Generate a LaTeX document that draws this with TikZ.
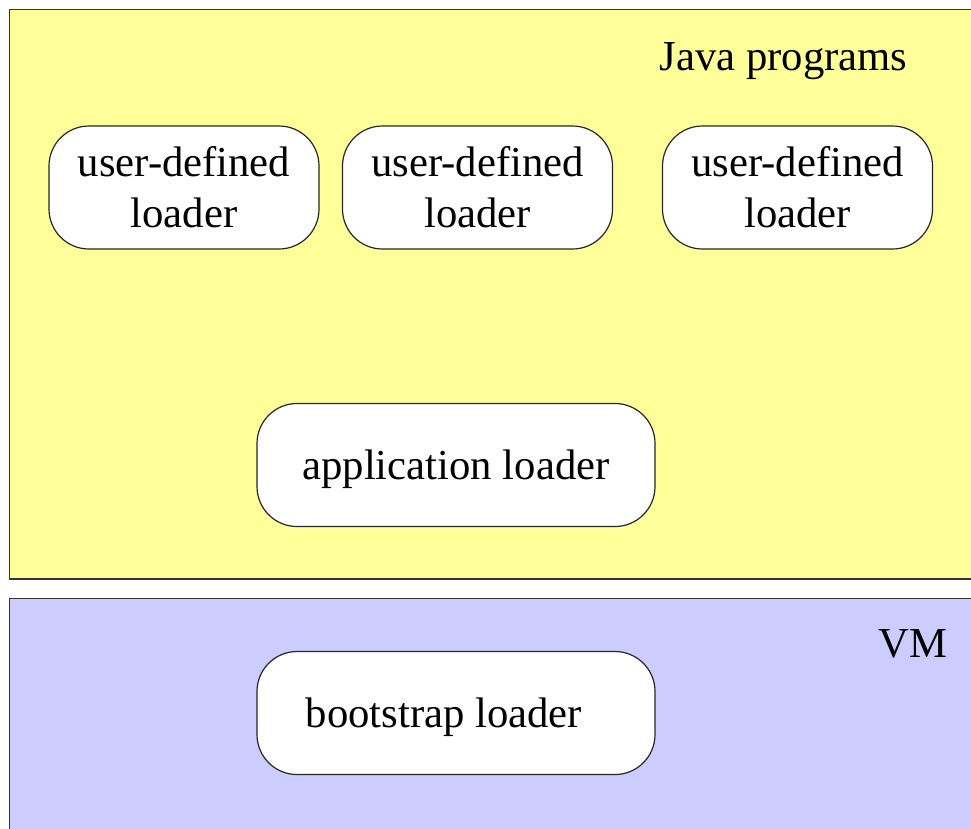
\documentclass[tikz,border=0pt]{standalone}
\usepackage{fontspec}
\setmainfont{Liberation Serif}
\definecolor{javabg}{HTML}{FFFF99}
\definecolor{vmbg}{HTML}{CCCCFF}
\begin{document}
\begin{tikzpicture}[x=1pt,y=-1pt,line join=round,font=\fontsize{42.7}{51}\selectfont,
	layer/.style={draw=black!80,line width=1.2pt},
	loader/.style={draw=black!85,line width=1.2pt,fill=white,rounded corners=40pt,minimum width=270pt,minimum height=123pt,align=center,inner sep=0pt},
	wide/.style={loader,minimum width=398pt,text depth=0pt}]
	\useasboundingbox (0,0) rectangle (971,828);
	\clip (0,0) rectangle (971,828);
	% two layers
	\draw[layer,fill=javabg] (9.5,9.5) rectangle (990,579);
	\draw[layer,fill=vmbg] (9.5,598.5) rectangle (990,850);
	\node[anchor=base west] (java) at (656,70) {Java programs};
	\node[anchor=base west] (vm) at (875,657) {VM};
	% loaders
	\node[loader] (user1) at (184,187.5) {user-defined\\loader};
	\node[loader] (user2) at (477.5,187.5) {user-defined\\loader};
	\node[loader] (user3) at (797.5,187.5) {user-defined\\loader};
	\node[wide] (app) at (456,465) {application loader};
	\node[wide] (boot) at (456,713) {bootstrap loader\hspace*{24pt}};
\end{tikzpicture}
\end{document}
